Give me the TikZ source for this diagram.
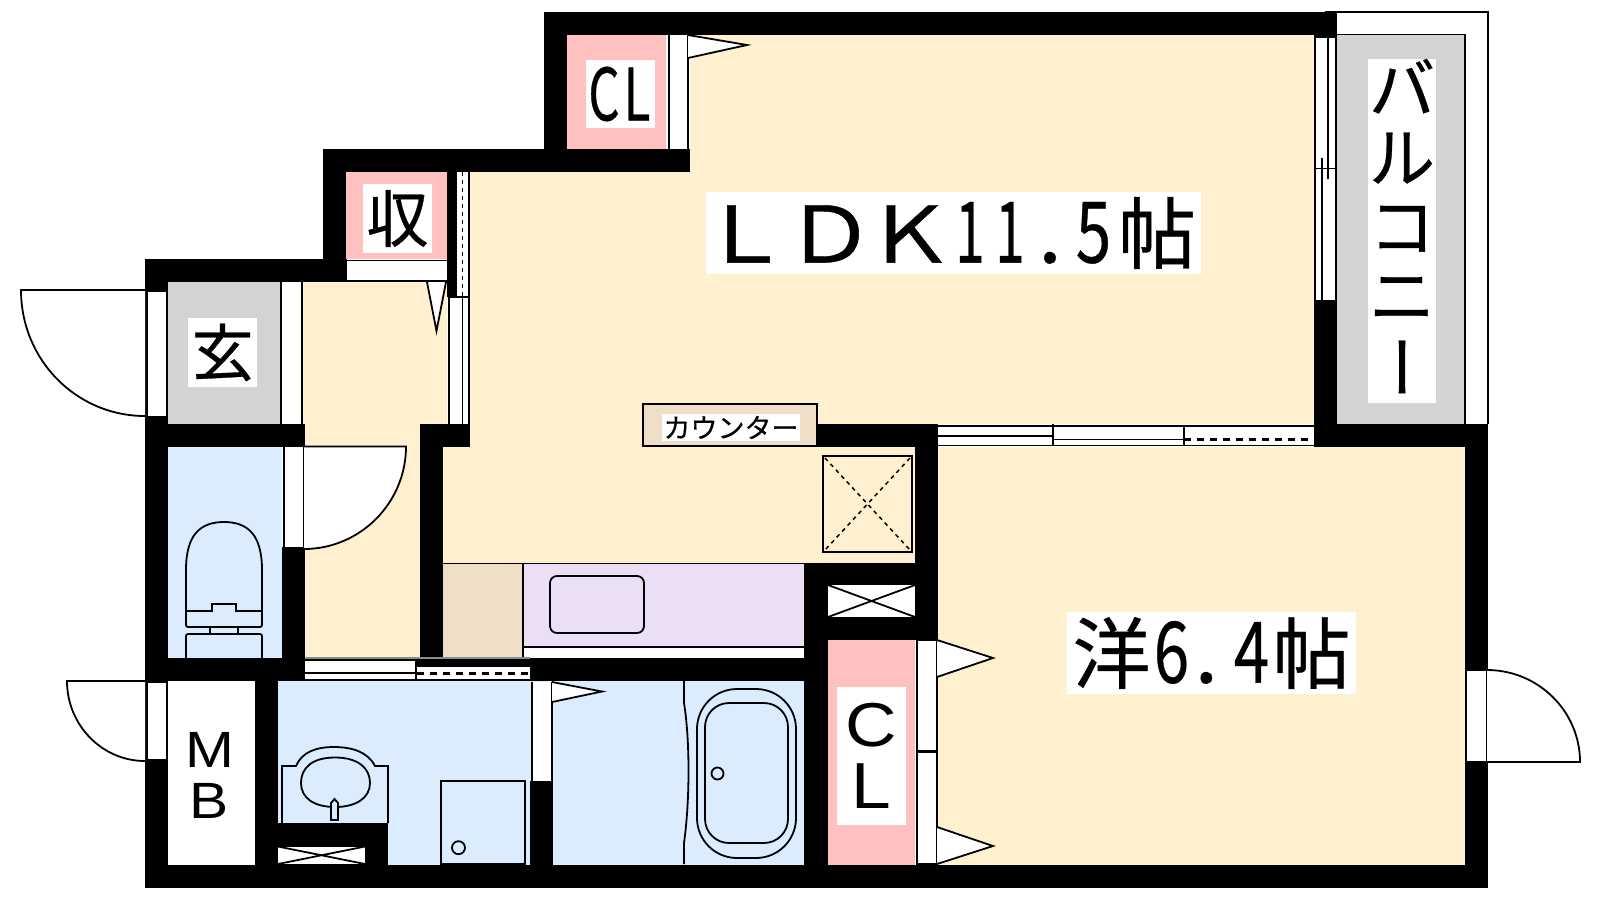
\documentclass[tikz,border=0pt]{standalone}
\usepackage{fontspec}
\setmainfont{Liberation Sans}
\newfontfamily\jp[FakeBold=0.5]{Noto Sans CJK JP}
\definecolor{cream}{HTML}{FFF1CF}
\definecolor{pinkc}{HTML}{FFC0C0}
\definecolor{bluec}{HTML}{DBECFF}
\definecolor{grayc}{HTML}{D3D3D3}
\definecolor{tanc}{HTML}{EFDFC8}
\definecolor{purc}{HTML}{ECDFF5}
\newcommand\fs[1]{\fontsize{#1}{#1}\selectfont}
% cell of given width holding a glyph stretched horizontally
\newcommand\cel[3]{\makebox[#1pt][c]{\scalebox{#2}[1]{#3}}}
% row of fixed height for the stacked balcony label
\newcommand\rowb[1]{\raisebox{0pt}[54pt][14pt]{#1}}
\tikzset{
  wall/.style={fill=black,draw=none},
  ln/.style={draw=black,line width=1.8pt},
  thin ln/.style={draw=black,line width=1.3pt},
  strip/.style={fill=white,draw=none},
  dline/.style={draw=black,line width=1.6pt,dash pattern=on 4pt off 4pt},
  hdline/.style={draw=black,line width=2.2pt,dash pattern=on 7pt off 6pt},
  door/.style={fill=white,draw=black,line width=1.8pt},
  lbl/.style={fill=white,inner sep=0pt,text=black,anchor=center,align=center},
}
\begin{document}
\begin{tikzpicture}[x=1pt,y=-1pt]
\useasboundingbox (0,0) rectangle (1600,900);
\fill[white] (0,0) rectangle (1600,900);
% room fills
\fill[cream] (690,35) rectangle (1314,424);
\fill[cream] (469,172) rectangle (700,424);
\fill[cream] (443,424) rectangle (915,563);
\fill[cream] (303,282) rectangle (447,424);
\fill[cream] (305,424) rectangle (420,658);
\fill[cream] (938,447) rectangle (1465,865);
\fill[pinkc] (567,35) rectangle (666,149);
\fill[pinkc] (346,172) rectangle (447,259);
\fill[pinkc] (828,640) rectangle (915,865);
\fill[grayc] (168,282) rectangle (280,424);
\fill[grayc] (1337,35) rectangle (1465,424);
\fill[bluec] (168,447) rectangle (282,658);
\fill[bluec] (278,681) rectangle (804,865);
\fill[tanc] (443,564) rectangle (523,657);
\fill[purc] (523,564) rectangle (804,646);
\fill[white] (523,648) rectangle (804,657);
\fill[white] (168,681) rectangle (255,865);
% walls
\path[wall] (544,12) rectangle (1337,35);
\path[wall] (544,12) rectangle (567,172);
\path[wall] (323,149) rectangle (690,172);
\path[wall] (323,149) rectangle (346,282);
\path[wall] (145,259) rectangle (347,282);
\path[wall] (145,259) rectangle (168,888);
\path[wall] (145,424) rectangle (305,447);
\path[wall] (420,424) rectangle (470,447);
\path[wall] (420,424) rectangle (443,657);
\path[wall] (282,547) rectangle (305,681);
\path[wall] (145,658) rectangle (815,681);
\path[wall] (815,424) rectangle (938,447);
\path[wall] (915,424) rectangle (938,640);
\path[wall] (804,563) rectangle (938,640);
\path[wall] (804,640) rectangle (828,888);
\path[wall] (804,658) rectangle (815,681);
\path[wall] (1314,12) rectangle (1337,447);
\path[wall] (1314,424) rectangle (1488,447);
\path[wall] (1465,424) rectangle (1488,888);
\path[wall] (145,865) rectangle (1488,888);
\path[wall] (255,681) rectangle (278,865);
\path[wall] (278,823) rectangle (388,865);
\path[wall] (530,781) rectangle (553,865);
\path[wall] (530,658) rectangle (553,681);
\path[wall] (447,172) rectangle (456,297);
\path[wall] (667,149) rectangle (690,172);
% balcony frame
\draw[thin ln] (1325,12) -- (1488,12) -- (1488,424);
\draw[ln] (1337,34.5) -- (1465,34.5) -- (1465,424);
% CL strip top
\path[strip] (668,35) rectangle (688,149);
\draw[ln] (669,35) -- (669,149) (688,35) -- (688,149);
\draw[door] (688,35) -- (747,45) -- (688,58);
% shu strip
\path[strip] (347,261) rectangle (447,281);
\draw[ln] (347,260.5) -- (447,260.5) (347,281) -- (447,281);
\draw[door,fill=white] (427,282) -- (436.5,331) -- (446,282);
% dashed and plain strips beside LDK
\path[strip] (456,172) rectangle (469,297);
\draw[ln] (456,172) -- (456,297) (469,172) -- (469,297);
\draw[dline] (462.5,172) -- (462.5,297);
\path[strip] (449,297) rectangle (469,424);
\draw[ln] (449,297) -- (449,424) (462.5,297) -- (462.5,424) (469,297) -- (469,424) (449,297) -- (469,297);
% genkan strips
\path[strip] (281,282) rectangle (302,424);
\draw[ln] (281,282) -- (281,424) (302,282) -- (302,424);
% entrance door
\path[strip] (147,291) rectangle (167,416);
\draw[ln] (147,291) -- (167,291) -- (167,416) (147,291) -- (147,416);
\draw[door] (145,290) -- (21,290) .. controls (21,360) and (76.5,416) .. (145,416);
% wc door
\path[strip] (284,447) rectangle (304,547);
\draw[ln] (284,447) -- (284,547) (304,447) -- (304,547);
\draw[door] (304,446.5) -- (406,446.5) .. controls (406,503) and (360,549) .. (304,549);
% window to hall bottom
\draw[thin ln,draw=black!45] (305,658) -- (530,658);
\path[strip] (305,660.5) rectangle (416,672);
\path[strip] (305,674) rectangle (416,680);
\path[strip] (417,667) rectangle (530,680);
\draw[thin ln] (305,660) -- (416,660);
\draw[ln,line width=2pt] (305,673) -- (416,673);
\draw[hdline] (417,673.5) -- (530,673.5);
\draw[ln] (416,660) -- (416,681);
\draw[ln] (305,680) -- (530,680);
% top-right window
\path[strip] (938,428) rectangle (1053,445);
\path[strip] (1053,428) rectangle (1184,445);
\path[strip] (1184,433) rectangle (1314,445);
\draw[ln] (938,426) -- (1314,426);
\draw[ln] (938,436) -- (1053,436) (1053,439.5) -- (1184,439.5);
\draw[ln] (938,445.5) -- (1314,445.5);
\draw[ln] (1053,424) -- (1053,446) (1184,427) -- (1184,446);
\draw[hdline] (1184,439.5) -- (1314,439.5);
% balcony window
\path[strip] (1315,38) rectangle (1336,300);
\draw[ln] (1315,38) -- (1315,300) (1336,38) -- (1336,300);
\draw[ln] (1328,38) -- (1328,179) (1322,158) -- (1322,300);
\draw[ln] (1315,168.5) -- (1336,168.5);
% counter
\node[fill=tanc,draw=black,line width=1.6pt,inner sep=0pt,minimum width=174pt,minimum height=42pt] (counterbox) at (730,425) {};
\node[lbl,minimum width=138pt,minimum height=27pt] (counter) at (731,427.5) {\jp\fs{27}カウンター};
% shaft
\draw[draw=black,line width=2.4pt] (823,456) rectangle (912,552);
\draw[dline,line width=1.5pt] (825,458) -- (910,550) (910,458) -- (825,550);
% shaft x box
\path[strip] (828,585) rectangle (915,617);
\draw[ln] (828,585) -- (915,617) (915,585) -- (828,617);
% kitchen
\draw[thin ln] (443,563.5) -- (804,563.5);
\draw[thin ln] (523,563.5) -- (523,657);
\draw[draw=black,line width=2.4pt] (523,647) -- (804,647);
\draw[ln,rounded corners=7pt] (550,576) rectangle (644,633);
% CL door strips
\path[strip] (917,640) rectangle (937,864);
\draw[ln] (917,640) rectangle (937,751) (917,752) rectangle (937,864);
\draw[door] (937,640) -- (993,658) -- (937,677);
\draw[door] (937,827) -- (993,846) -- (937,864);
% room door right
\path[strip] (1466,670) rectangle (1487,762);
\draw[ln] (1466,670) rectangle (1487,762);
\draw[door] (1487,670) .. controls (1538,670) and (1580,711) .. (1580,762) -- (1487,762);
% MB door
\path[strip] (147,682) rectangle (167,759);
\draw[ln] (147,682) -- (167,682) -- (167,759) (147,682) -- (147,759);
\draw[door] (145,681) -- (67,681) .. controls (67,725) and (102,761) .. (145,761);
% wash strip + door
\path[strip] (532,682) rectangle (552,781);
\draw[ln] (532,682) -- (532,781) (552,682) -- (552,781);
\draw[door] (552,682) -- (602,691.5) -- (552,702);
% toilet
\draw[ln] (186,611) -- (186,570) .. controls (186,535) and (200,522) .. (224,522) .. controls (248,522) and (262,535) .. (262,570) -- (262,611);
\draw[ln] (186,611) -- (212,611) -- (212,604) -- (236,604) -- (236,611) -- (262,611);
\draw[ln,rounded corners=2pt] (186,611) -- (186,627) -- (262,627) -- (262,611);
\draw[ln] (210,627) -- (210,634) (238,627) -- (238,634);
\draw[ln,rounded corners=2pt] (186,658) -- (186,634) -- (262,634) -- (262,658);
% wash basin
\draw[ln] (282,823) -- (282,766) -- (296,766) .. controls (302,752) and (316,747) .. (334,747) .. controls (352,747) and (368,752) .. (375,766) -- (388,766) -- (388,823);
\draw[ln] (335,757.5) .. controls (358,757.5) and (370,768) .. (370,783) .. controls (370,798) and (356,807) .. (335,807) .. controls (314,807) and (301,798) .. (301,783) .. controls (301,768) and (312,757.5) .. (335,757.5);
\draw[ln,fill=bluec] (331,820) -- (331,803) -- (334.5,799) -- (338,803) -- (338,820) -- cycle;
% small shaft
\path[strip] (278,846.5) rectangle (365,864);
\draw[ln] (278,846.5) -- (365,864) (365,846.5) -- (278,864);
% washing machine
\draw[ln] (441,781) rectangle (525,864);
\draw[ln] (458.5,847.7) circle (6.5pt);
% bath
\draw[ln] (684,681) -- (684,703) .. controls (690,740) and (690,800) .. (684,843) -- (684,864);
\draw[ln,rounded corners=40pt] (697,689) rectangle (796,858);
\draw[ln,rounded corners=24pt] (705,703) rectangle (788,843);
\draw[ln] (717.5,773.5) circle (6pt);
% labels
\node[lbl,minimum width=69pt,minimum height=68pt] (clone) at (620.5,94) {\jp\fs{72}\cel{33}{.68}{C}\cel{33}{.68}{L}};
\node[lbl,minimum width=69pt,minimum height=69pt] (shu) at (397.5,218.5) {\jp\fs{62}収};
\node[lbl,minimum width=69pt,minimum height=69pt] (gen) at (222.5,352.5) {\jp\fs{62}玄};
\node[lbl,minimum width=495pt,minimum height=82pt] (ldk) at (953.5,233) {\jp\fs{78}\hspace*{-5pt}\cel{80}{1.15}{Ｌ}\hspace*{5pt}\cel{80}{1.15}{Ｄ}\cel{80}{1.15}{Ｋ}\fs{85}\cel{40}{.62}{1}\cel{40}{.62}{1}\cel{40}{1}{.}\cel{47}{.75}{5}\fs{78}\cel{80}{1}{帖}};
\node[lbl,minimum width=289pt,minimum height=82pt] (yo) at (1211.5,653) {\jp\fs{78}\cel{80}{1}{洋}\fs{85}\cel{40}{.75}{6}\makebox[40pt][l]{\hspace{3pt}.}\cel{40}{.75}{4}\fs{78}\cel{80}{1}{帖}};
\node[lbl,minimum width=68pt,minimum height=344pt,font=\jp\fs{66}] (bal) at (1402,231) {\rowb{バ}\\\rowb{ル}\\\rowb{コ}\\\rowb{ニ}\\\raisebox{55pt}[54pt][14pt]{\hspace*{-22pt}\rotatebox{-90}{ー}}};
\node[lbl,fill=none,font=\fs{51}] (mb) at (209.5,775) {\baselineskip=55pt \scalebox{1.15}[1]{M}\\\scalebox{1.15}[1]{B}};
\node[lbl,minimum width=69pt,minimum height=138pt,font=\fs{62}] (cltwo) at (871.5,756) {\baselineskip=68pt \scalebox{1.15}[1]{C}\\\scalebox{1.15}[1.05]{L}};
\end{tikzpicture}
\end{document}
